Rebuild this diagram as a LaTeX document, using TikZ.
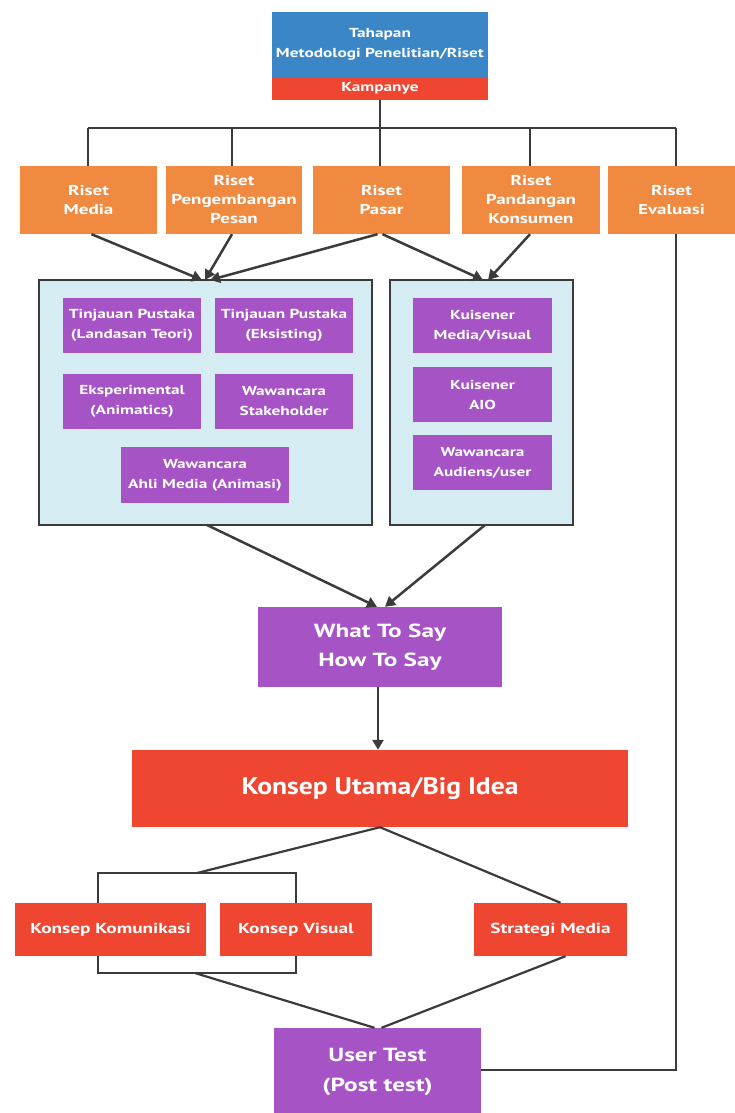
\documentclass[tikz,border=0pt]{standalone}
\usepackage{fontspec}
\setmainfont{PT Sans}
\newfontfamily\fstA{PT Sans}[FakeStretch=1.15]
\newfontfamily\fstB{PT Sans}[FakeStretch=1.33]
\usetikzlibrary{arrows.meta}
\definecolor{hblue}{HTML}{3A86C6}
\definecolor{hred}{HTML}{EE4630}
\definecolor{horange}{HTML}{F08A40}
\definecolor{hpurple}{HTML}{A653C6}
\definecolor{hpanel}{HTML}{D5ECF2}
\definecolor{hline}{HTML}{3B3B3B}
\begin{document}
\begin{tikzpicture}[x=1pt,y=-1pt,
  base/.style={inner sep=0pt, text=white, font=\bfseries, align=center},
  orng/.style={base, fill=horange, minimum width=#1, minimum height=68pt, font=\fstB\bfseries\fontsize{14.3}{19}\selectfont},
  purp/.style={base, fill=hpurple, minimum width=138pt, minimum height=55pt, font=\fstB\bfseries\fontsize{13}{20}\selectfont},
  redb/.style={base, fill=hred, minimum height=53pt, font=\fstB\bfseries\fontsize{14.5}{18}\selectfont},
  panel/.style={draw=hline, line width=2.8pt, fill=hpanel, inner sep=0pt},
  conn/.style={draw=hline, line width=2.5pt},
  arr/.style={conn, -{Triangle[width=11pt,length=10pt]}}
]
\useasboundingbox (0,0) rectangle (735,1113);
\fill[white] (0,0) rectangle (735,1113);

% header
\node[base, fill=hblue, minimum width=216pt, minimum height=65pt, font=\fstB\bfseries\fontsize{13}{20}\selectfont] (hdr) at (380,44.5) {Tahapan\\Metodologi Penelitian/Riset};
\node[base, fill=hred, minimum width=216pt, minimum height=23pt, font=\fstB\bfseries\fontsize{13}{16}\selectfont] (kamp) at (380,88.5) {Kampanye};

% orange research boxes
\node[orng=137pt] (media) at (88.5,200) {Riset\\Media};
\node[orng=136pt] (peng) at (234,200) {Riset\\Pengembangan\\Pesan};
\node[orng=137pt] (pasar) at (381.5,200) {Riset\\Pasar};
\node[orng=138pt] (pand) at (531,200) {Riset\\Pandangan\\Konsumen};
\node[orng=127pt] (eval) at (671.5,200) {Riset\\Evaluasi};

% bus
\coordinate (busL) at (88,128);
\coordinate (busR) at (676,128);
\coordinate (busC) at (kamp.south |- busL);
\draw[conn] (kamp.south) -- (busC);
\draw[conn] (busL) -- (busR);
\draw[conn] (busL) -- (busL |- media.north);
\draw[conn] (232,128) -- (232,166);
\draw[conn] (busC) -- (busC |- pasar.north);
\draw[conn] (530,128) -- (530,166);
\draw[conn] (busR) -- (busR |- eval.north);

% panels
\node[panel, minimum width=333pt, minimum height=245pt] (lp) at (205.5,402.5) {};
\node[panel, minimum width=183pt, minimum height=245pt] (rp) at (481.5,402.5) {};

\node[purp] (tp1) at (132,325) {Tinjauan Pustaka\\(Landasan Teori)};
\node[purp] (tp2) at (284,325) {Tinjauan Pustaka\\(Eksisting)};
\node[purp] (eks) at (132,401.5) {Eksperimental\\(Animatics)};
\node[purp] (wst) at (284,401.5) {Wawancara\\Stakeholder};
\node[purp, minimum width=168pt, minimum height=56pt] (wam) at (205,475) {Wawancara\\Ahli Media (Animasi)};

\node[purp, minimum width=139pt] (k1) at (482.5,325.5) {Kuisener\\Media/Visual};
\node[purp, minimum width=139pt] (k2) at (482.5,394.5) {Kuisener\\AIO};
\node[purp, minimum width=139pt] (k3) at (482.5,462.5) {Wawancara\\Audiens/user};

% arrows into panels
\coordinate (lpin) at (205,280);
\coordinate (rpin) at (485,280);
\draw[arr] ([xshift=3pt]media.south) -- ([xshift=-3pt]lpin);
\draw[arr] ([xshift=-2pt]peng.south) -- (lpin);
\draw[arr] ([xshift=-4pt]pasar.south) -- ([xshift=5pt]lpin);
\draw[arr] ([xshift=1pt]pasar.south) -- ([xshift=-2pt]rpin);
\draw[arr] ([xshift=-1pt]pand.south) -- ([xshift=3pt]rpin);

% what to say
\node[base, fill=hpurple, minimum width=244pt, minimum height=80pt, font=\fstB\bfseries\fontsize{19}{29}\selectfont] (wts) at (380,647) {What To Say\\How To Say};
\draw[arr] (207,525) -- ([xshift=-3pt]wts.north);
\draw[arr] (485,525) -- ([xshift=5pt]wts.north);

% big idea
\node[base, fill=hred, minimum width=496pt, minimum height=77pt, font=\fstA\bfseries\fontsize{24}{28}\selectfont] (big) at (380,788.5) {Konsep Utama/Big Idea};
\draw[arr] ([xshift=-2pt]wts.south) -- ([xshift=-2pt]wts.south |- big.north);

% bracket and concept boxes
\coordinate (brTL) at (98,873);
\coordinate (brBR) at (296,973);
\draw[hline, line width=2.2pt] (brTL) rectangle (brBR);
\node[redb, minimum width=191pt] (kk) at (110.5,929.5) {Konsep Komunikasi};
\node[redb, minimum width=152pt] (kv) at (296,929.5) {Konsep Visual};
\node[redb, minimum width=153pt] (sm) at (550.5,929.5) {Strategi Media};

\coordinate (brTop) at (197,873);
\coordinate (brBot) at (195,973);
\draw[conn, line width=2.2pt] (big.south) -- (brTop);
\draw[conn, line width=2.2pt] (big.south) -- ([xshift=10pt]sm.north);

% user test
\node[base, fill=hpurple, minimum width=207pt, minimum height=88pt, font=\fstB\bfseries\fontsize{19}{30}\selectfont] (ut) at (377.5,1072) {User Test\\(Post test)};
\draw[conn, line width=2.2pt] (brBot) -- ([xshift=-3pt]ut.north);
\draw[conn, line width=2.2pt] ([xshift=15pt]sm.south) -- ([xshift=4pt]ut.north);

% feedback loop
\coordinate (fbc) at (676,1070);
\draw[conn] (ut.east |- fbc) -- (fbc) -- (fbc |- eval.south);
\end{tikzpicture}
\end{document}
